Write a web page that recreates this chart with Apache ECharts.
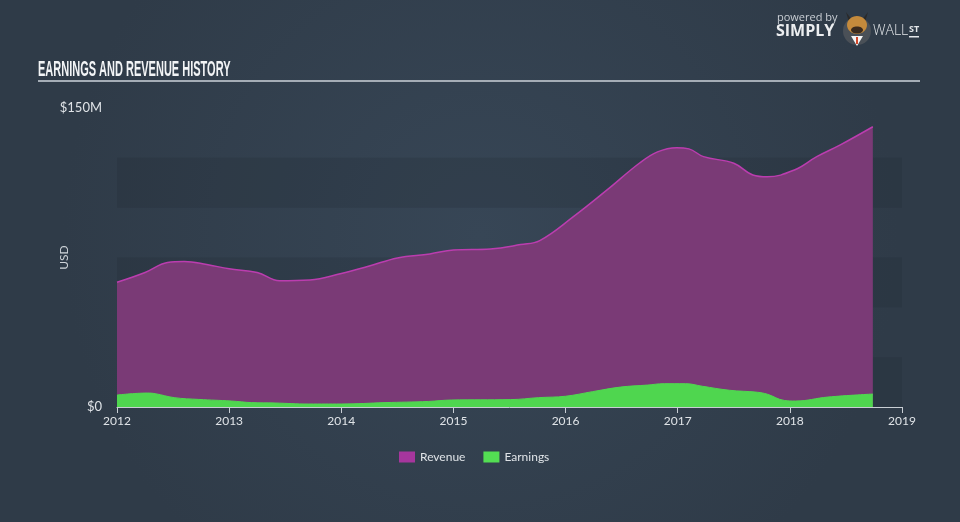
<!DOCTYPE html>
<html>
<head>
<meta charset="utf-8">
<script src="https://cdn.jsdelivr.net/npm/echarts@6/dist/echarts.min.js"></script>
<style>
  html, body { margin: 0; padding: 0; }
  #chart { width: 960px; height: 522px; }
</style>
</head>
<body>
<div id="chart"></div>
<script>
// values, in $M, x as decimal year
var revYears = [2012.0, 2012.25, 2012.45, 2012.6, 2012.8, 2013.0, 2013.25, 2013.45, 2013.72, 2014.0,
  2014.25, 2014.5, 2014.79, 2015.0, 2015.33, 2015.6, 2015.77, 2016.07, 2016.37, 2016.66,
  2016.82, 2016.99, 2017.1, 2017.23, 2017.5, 2017.67, 2017.8, 2018.04, 2018.24, 2018.45, 2018.74];
var revValues = [62.6, 67.5, 72.5, 73.0, 71.5, 69.3, 67.5, 63.3, 63.7, 67.0,
  70.7, 74.8, 76.8, 78.8, 79.3, 81.5, 83.5, 95.5, 108.9, 122.4,
  128.0, 130.1, 129.5, 125.6, 122.3, 116.4, 115.5, 118.9, 125.6, 131.5, 140.6];

var earnYears = [2012.0, 2012.27, 2012.34, 2012.51, 2012.73, 2013.02, 2013.2, 2013.41, 2013.71, 2014.0,
  2014.39, 2014.78, 2014.98, 2015.51, 2015.76, 2016.0, 2016.24, 2016.49, 2016.73, 2016.88,
  2017.07, 2017.22, 2017.46, 2017.71, 2017.8, 2017.95, 2018.05, 2018.34, 2018.74];
var earnValues = [6.0, 7.0, 6.7, 4.7, 3.8, 3.0, 2.2, 2.0, 1.5, 1.5,
  2.2, 2.8, 3.5, 3.7, 4.7, 5.4, 7.7, 10.0, 11.0, 11.7,
  11.7, 10.4, 8.4, 7.4, 6.4, 3.3, 3.0, 5.0, 6.5];

var yearTicks = [2012, 2013, 2014, 2015, 2016, 2017, 2018, 2019];

function pairs(xs, ys) {
  return xs.map(function (x, i) { return [x, ys[i]]; });
}

var myChart = echarts.init(document.getElementById('chart'));
var font = 'Lato, "Noto Sans", sans-serif';

var option = {
  backgroundColor: {
    type: 'radial', x: 0.5, y: 0.45, r: 0.8,
    colorStops: [{ offset: 0, color: '#374656' }, { offset: 1, color: '#2f3b48' }]
  },
  animation: false,
  grid: { left: 117, right: 58, top: 108, bottom: 115 },
  legend: {
    left: 394, top: 446,
    itemWidth: 16, itemHeight: 11, itemGap: 18,
    icon: 'rect',
    textStyle: { color: '#dfe3e7', fontSize: 12, fontFamily: font },
    data: ['Revenue', 'Earnings']
  },
  xAxis: {
    type: 'value', min: yearTicks[0], max: yearTicks[yearTicks.length - 1], interval: 1,
    axisLine: { show: true, lineStyle: { color: '#c9ced4', width: 1 } },
    axisTick: { show: true, length: 6, lineStyle: { color: '#c9ced4' } },
    axisLabel: { color: '#dfe3e7', fontSize: 12, fontFamily: font, margin: 8,
      formatter: function (v) { return String(v); } },
    splitLine: { show: false }
  },
  yAxis: {
    type: 'value', min: 0, max: 150, interval: 25,
    name: 'USD', nameLocation: 'middle', nameRotate: 90, nameGap: 47,
    nameMoveOverlap: false,
    nameTextStyle: { color: '#cfd4d9', fontSize: 12, fontFamily: font },
    axisLine: { show: false },
    axisTick: { show: false },
    axisLabel: { color: '#dfe3e7', fontSize: 13, fontFamily: font, margin: 15,
      formatter: function (v) { return v === 0 ? '$0' : (v === 150 ? '$150M' : ''); } },
    splitLine: { show: false },
    splitArea: { show: true, areaStyle: { color: ['rgba(30,40,52,0.22)', 'rgba(0,0,0,0)'] } }
  },
  series: [
    {
      name: 'Revenue', type: 'line', smooth: 0.4, showSymbol: false,
      data: pairs(revYears, revValues),
      itemStyle: { color: '#a6369d' },
      lineStyle: { color: '#bb3daf', width: 1.5 },
      areaStyle: { color: '#7a3a76', opacity: 1 }
    },
    {
      name: 'Earnings', type: 'line', smooth: 0.4, showSymbol: false,
      data: pairs(earnYears, earnValues),
      itemStyle: { color: '#53de53' },
      lineStyle: { color: '#50d850', width: 1 },
      areaStyle: { color: '#4fd64f', opacity: 1 }
    }
  ],
  graphic: [
    { type: 'text', x: 38, y: 59, scaleX: 0.88, scaleY: 1.7,
      style: { text: 'EARNINGS AND REVENUE HISTORY', fill: '#f2f4f6',
        font: 'bold 12.5px "Liberation Sans Narrow", sans-serif', verticalAlign: 'top' } },
    { type: 'rect', shape: { x: 38, y: 80, width: 882, height: 2 }, style: { fill: '#a5adb6' } },
    // logo
    { type: 'text', x: 777, y: 12,
      style: { text: 'powered by', fill: '#c9ced4', font: '11px "Open Sans", sans-serif' } },
    { type: 'text', x: 776, y: 23,
      style: { text: 'SIMPLY', fill: '#eceef0', font: 'bold 16px "Open Sans", sans-serif' } },
    { type: 'circle', shape: { cx: 857, cy: 31, r: 14 }, style: { fill: '#4a5057' } },
    { type: 'polygon', shape: { points: [[851, 36], [863, 36], [857, 46]] }, style: { fill: '#f4f4f4' } },
    { type: 'rect', shape: { x: 856, y: 37, width: 2, height: 7 }, style: { fill: '#d2472a' } },
    { type: 'polygon', shape: { points: [[846, 12], [849, 22], [852, 20]] }, style: { fill: '#2a2a2a' } },
    { type: 'polygon', shape: { points: [[868, 12], [865, 22], [862, 20]] }, style: { fill: '#2a2a2a' } },
    { type: 'ellipse', shape: { cx: 857, cy: 25, rx: 10, ry: 9 }, style: { fill: '#c48a3c' } },
    { type: 'ellipse', shape: { cx: 857, cy: 30, rx: 6, ry: 3.5 }, style: { fill: '#3a2a1e' } },
    { type: 'text', x: 873, y: 24,
      style: { text: 'WALL', fill: '#e4e7ea', font: '300 14px "Open Sans", sans-serif' } },
    { type: 'text', x: 909, y: 25,
      style: { text: 'ST', fill: '#e4e7ea', font: 'bold 9px "Open Sans", sans-serif' } },
    { type: 'rect', shape: { x: 909, y: 36, width: 10, height: 1.5 }, style: { fill: '#e4e7ea' } }
  ]
};

myChart.setOption(option);
window.addEventListener('resize', function () {
  myChart.resize();
});
</script>
</body>
</html>
